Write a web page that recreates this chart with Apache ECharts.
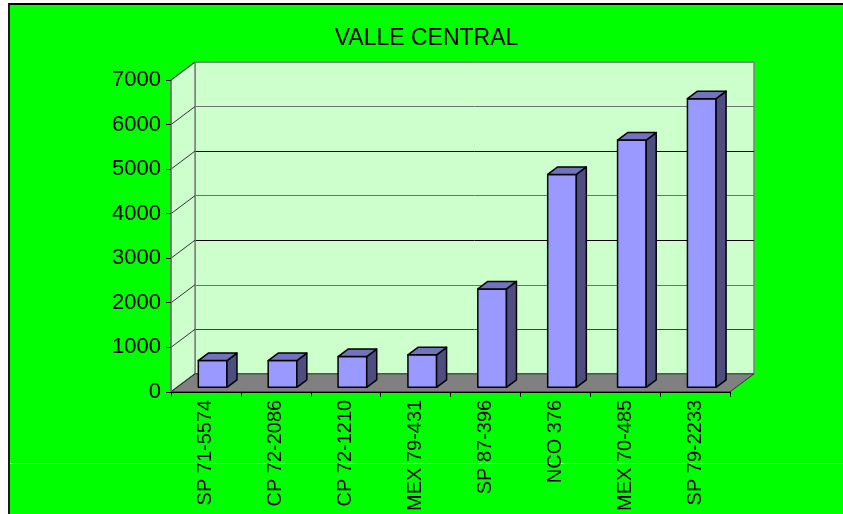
<!DOCTYPE html>
<html>
<head>
<meta charset="utf-8">
<script src="https://cdn.jsdelivr.net/npm/echarts@6/dist/echarts.min.js"></script>
<style>
html,body{margin:0;padding:0;background:#fff;}
#frame{position:absolute;left:8px;top:3px;border-left:2px solid #1a1a1a;border-top:2px solid #000;}
#chart{width:833px;height:509px;}
</style>
</head>
<body>
<div id="frame"><div id="chart"></div></div>
<script>
const categories = ['SP 71-5574', 'CP 72-2086', 'CP 72-1210', 'MEX 79-431', 'SP 87-396', 'NCO 376', 'MEX 70-485', 'SP 79-2233'];
const values = [600, 600, 690, 730, 2210, 4780, 5550, 6480];
const yTicks = [0, 1000, 2000, 3000, 4000, 5000, 6000, 7000];
const yMax = 7000, yStep = 1000;

// depth of the box: back wall sits this far up/right of the front axes
const DX = 24, DY = -18;
// bars: front face offset from the front plane, then bar depth
const BX = 6.7, BY = -4.5, SX = 10, SY = -7.5;

const FONT = 'Arial, "Liberation Sans", sans-serif';
const front = {left: 161, top: 75, width: 559, height: 312};

const chart = echarts.init(document.getElementById('chart'));

function renderFrame(params, api) {
    const cs = params.coordSys;
    const y = api.coord([0, api.value(1)])[1];
    const l = cs.x, r = cs.x + cs.width, t = cs.y, b = cs.y + cs.height;
    const kids = [];
    if (params.dataIndex === 0) {
        // left side wall
        kids.push({type: 'polygon', shape: {points: [[l, t], [l + DX, t + DY], [l + DX, b + DY], [l, b]]},
            style: {fill: '#ccffcc', stroke: '#808080', lineWidth: 1.5}});
        // floor
        kids.push({type: 'polygon', shape: {points: [[l, b], [l + DX, b + DY], [r + DX, b + DY], [r, b]]},
            style: {fill: '#808080', stroke: '#333', lineWidth: 1}});
    }
    kids.push({type: 'line', shape: {x1: l, y1: y, x2: l + DX, y2: y + DY},
        style: {stroke: '#333', lineWidth: 1}});
    return {type: 'group', children: kids};
}

function renderBar(params, api) {
    const i = api.value(0), v = api.value(1);
    const base = api.coord([i, 0]), tip = api.coord([i, v]);
    const w = api.size([1, 0])[0] * 0.41;
    const x0 = base[0] - w / 2 + BX, x1 = x0 + w;
    const yb = base[1] + BY, yt = tip[1] + BY;
    const edge = {stroke: '#000', lineWidth: 1.5, lineJoin: 'round'};
    return {type: 'group', children: [
        {type: 'rect', shape: {x: x0, y: yt, width: w, height: yb - yt}, style: Object.assign({fill: '#9999ff'}, edge)},
        {type: 'polygon', shape: {points: [[x1, yt], [x1 + SX, yt + SY], [x1 + SX, yb + SY], [x1, yb]]}, style: Object.assign({fill: '#4d4d80'}, edge)},
        {type: 'polygon', shape: {points: [[x0, yt], [x0 + SX, yt + SY], [x1 + SX, yt + SY], [x1, yt]]}, style: Object.assign({fill: '#7272bf'}, edge)}
    ]};
}

chart.setOption({
    animation: false,
    backgroundColor: '#00ff00',
    title: {
        text: 'VALLE CENTRAL',
        left: 'center',
        top: 17,
        textStyle: {fontFamily: FONT, fontSize: 23, fontWeight: 'normal', color: '#000'}
    },
    graphic: [
        {type: 'line', z: 0, shape: {x1: 0, y1: 458.5, x2: 833, y2: 458.5}, style: {stroke: '#fff', lineWidth: 1}}
    ],
    grid: [
        front,
        {left: front.left + DX, top: front.top + DY, width: front.width, height: front.height,
            show: true, backgroundColor: '#ccffcc', borderColor: '#808080', borderWidth: 1.5}
    ],
    xAxis: [
        {
            type: 'category', gridIndex: 0, data: categories, z: 3,
            axisLine: {lineStyle: {color: '#000', width: 1}},
            axisTick: {show: true, length: 5, interval: 0, lineStyle: {color: '#000'}},
            axisLabel: {rotate: 90, interval: 0, fontSize: 20, margin: 8, color: '#000', fontFamily: FONT}
        },
        {type: 'category', gridIndex: 1, data: categories, show: false}
    ],
    yAxis: [
        {
            type: 'value', gridIndex: 0, min: 0, max: yMax, interval: yStep, z: 3,
            axisLine: {show: true, lineStyle: {color: '#707070', width: 1.5}},
            axisTick: {show: true, length: 5, lineStyle: {color: '#000'}},
            axisLabel: {fontSize: 22, margin: 10, color: '#000', fontFamily: FONT,
                formatter: v => String(v)},
            splitLine: {show: false}
        },
        {
            type: 'value', gridIndex: 1, min: 0, max: yMax, interval: yStep,
            axisLine: {show: false}, axisTick: {show: false}, axisLabel: {show: false},
            splitLine: {show: true, lineStyle: {width: 1,
                color: ['#808080', '#404040', '#707070', '#000', '#707070', '#000', '#707070', '#808080']}}
        }
    ],
    series: [
        {
            type: 'custom', name: 'frame', xAxisIndex: 0, yAxisIndex: 0, z: 1, clip: false, silent: true,
            renderItem: renderFrame,
            data: yTicks.map(v => [0, v])
        },
        {
            type: 'custom', name: 'VALLE CENTRAL', xAxisIndex: 0, yAxisIndex: 0, z: 2, clip: false,
            renderItem: renderBar,
            data: values.map((v, i) => [i, v])
        }
    ]
});
</script>
</body>
</html>
